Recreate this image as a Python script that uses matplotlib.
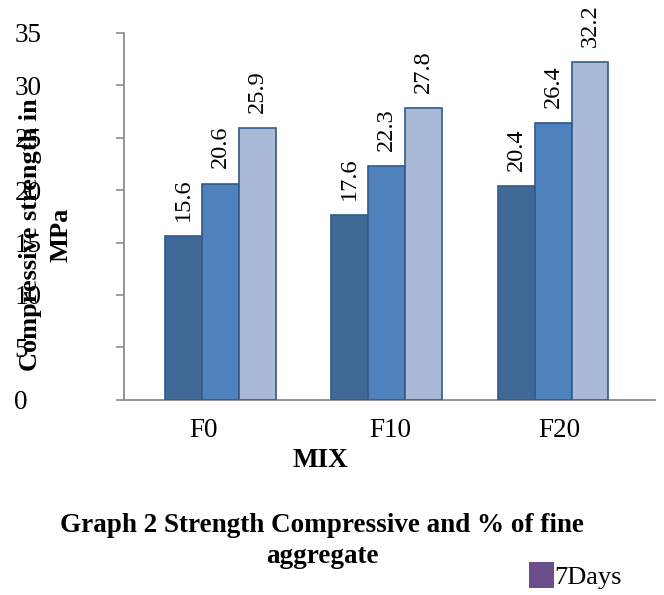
import numpy as np
import matplotlib
matplotlib.use("Agg")
import matplotlib.pyplot as plt
from matplotlib.patches import Patch

plt.rcParams['font.family'] = ['Liberation Serif', 'DejaVu Serif']

# ---- data ----
mixes = ["F0", "F10", "F20"]
days_7 = [15.6, 17.6, 20.4]
days_14 = [20.6, 22.3, 26.4]
days_28 = [25.9, 27.8, 32.2]
series_names = ["7Days", "14Days", "28Days"]
legend_labels = ["7Days"]
y_ticks = [0, 5, 10, 15, 20, 25, 30, 35]

colors = ["#416998", "#4f81bd", "#aab9d7"]
edge = "#34598a"

fig = plt.figure(figsize=(6.64, 5.95), dpi=100)
ax = fig.add_axes([0.187, 0.328, 0.799, 0.617])

x = np.arange(len(mixes))
w = 0.222
for k, vals in enumerate([days_7, days_14, days_28]):
    bars = ax.bar(x + (k - 1) * w, vals, width=w, color=colors[k],
                  edgecolor=edge, linewidth=1.2, label=series_names[k], zorder=3)
    for b, v in zip(bars, vals):
        ax.annotate(f"{v}", (b.get_x() + b.get_width() / 2, b.get_height()),
                    xytext=(0, 11), textcoords="offset points",
                    rotation=90, ha="center", va="bottom", fontsize=17.5)

ax.set_xlim(-0.578, 2.611)
ax.set_ylim(0, 35)
ax.set_yticks(y_ticks)
ax.set_xticks([-0.103, 1.024, 2.035])
ax.set_xticklabels(mixes)

for s in ["top", "right"]:
    ax.spines[s].set_visible(False)
for s in ["left", "bottom"]:
    ax.spines[s].set_color("#8c8c8c")
    ax.spines[s].set_linewidth(1.3)

ax.tick_params(axis="y", length=6, width=1.2, color="#8c8c8c", pad=73, labelsize=19.5)
for lab in ax.get_yticklabels():
    lab.set_horizontalalignment("left")
ax.tick_params(axis="x", length=0, pad=13, labelsize=19.5)

ax.set_xlabel("MIX", fontsize=19.5, fontweight="bold")
ax.xaxis.set_label_coords(0.37, -0.13)
ax.set_ylabel("Compressive strength in\nMPa", fontsize=19, fontweight="bold",
              linespacing=1.4)
ax.yaxis.set_label_coords(-0.098, 0.45)

fig.text(0.485, 0.0908, "Graph 2 Strength Compressive and % of fine\naggregate",
         ha="center", va="center", fontsize=19.5, fontweight="bold", linespacing=1.3)

handles = [Patch(facecolor="#6b4f8a", edgecolor="none")]
fig.legend(handles, legend_labels, loc="upper left",
           bbox_to_anchor=(529 / 664, (595 - 562) / 595), frameon=False,
           fontsize=19, handlelength=0.95, handleheight=1.15, handletextpad=0.0,
           borderpad=0, borderaxespad=0)

fig.savefig("out.png", dpi=100)
